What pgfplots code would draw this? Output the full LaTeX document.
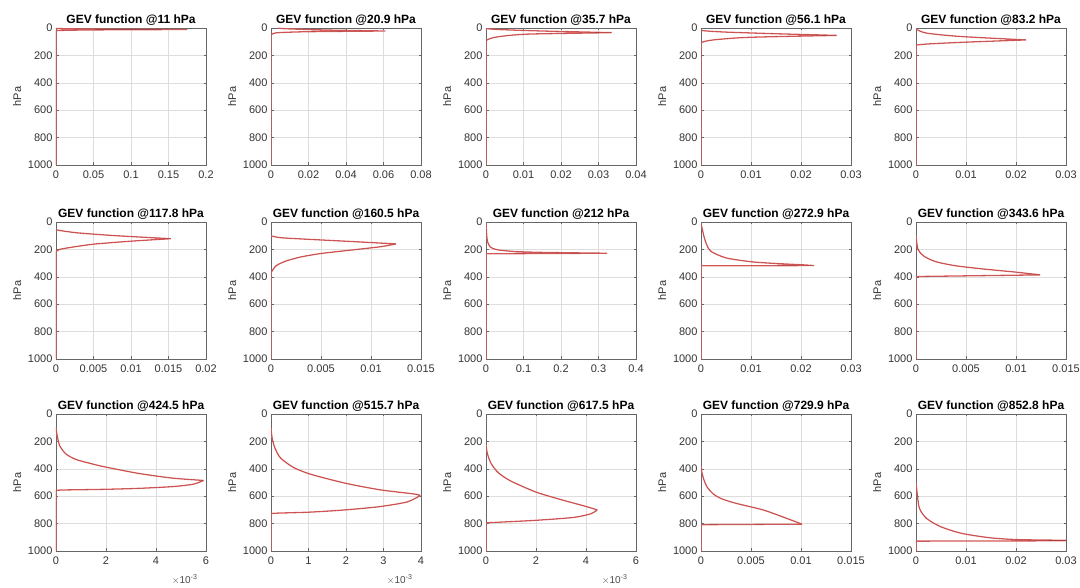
\documentclass[border=0pt]{standalone}
\usepackage{fontspec}
\setmainfont{Liberation Sans}
\usepackage{pgfplots}
\usepackage{pgfplotstable}
\pgfplotsset{compat=1.18}

\definecolor{gevred}{rgb}{0.88,0.40,0.40}
\definecolor{gevdark}{rgb}{0.50,0.12,0.12}
\definecolor{axgray}{rgb}{0.40,0.40,0.40}

% curves: x = GEV value, y = pressure (hPa); nan rows split tail / lower / upper branch
\pgfplotstableread{
x y
0 1000
0 22
nan nan
0 22
0.005 18
0.05 14
0.175 11
nan nan
0.175 11
0.05 8
0.01 5
0 3
}\cA
\pgfplotstableread{
x y
0 1000
0 50
nan nan
0 50
0.001 42
0.004 34
0.02 27
0.061 22
nan nan
0.061 22
0.03 15
0.007 5
0.004 0
}\cB
\pgfplotstableread{
x y
0 1000
0 95
nan nan
0 95
0.0004 85
0.002 70
0.0056 56
0.012 44
0.0335 34
nan nan
0.0335 34
0.015 22
0.004 12
0.001 7
0 5
}\cC
\pgfplotstableread{
x y
0 1000
0 108
nan nan
0 108
0.0007 98
0.003 85
0.0097 68
0.0271 54
nan nan
0.0271 54
0.015 42
0.005 30
0.0005 20
0 15
}\cD
\pgfplotstableread{
x y
0 1000
0 125
nan nan
0 125
0.0022 117
0.0089 105
0.022 87
nan nan
0.022 87
0.0089 62
0.0022 38
0.0002 12
0 5
}\cE
\pgfplotstableread{
x y
0 1000
0 215
nan nan
0 215
0.0005 200
0.002 185
0.005 162
0.01 140
0.0153 122
nan nan
0.0153 122
0.008 100
0.003 80
0.0005 62
0 55
}\cF
\pgfplotstableread{
x y
0 1000
0 370
nan nan
0 370
0.0005 320
0.0015 285
0.003 255
0.005 230
0.008 205
0.011 180
0.0125 160
nan nan
0.0125 160
0.0082 143
0.0016 118
0.0004 108
0 100
}\cG
\pgfplotstableread{
x y
0 1000
0 232
nan nan
0 232
0.323 228
nan nan
0.323 228
0.15 222
0.074 215
0.029 202
0.0116 183
0.0044 146
0.002 100
0 10
}\cH
\pgfplotstableread{
x y
0 1000
0 320
nan nan
0 320
0.0226 318
nan nan
0.0226 318
0.02 312
0.015 303
0.01 290
0.005 262
0.002 215
0.0012 170
0.0007 120
0.0003 60
0 10
}\cI
\pgfplotstableread{
x y
0 1000
0 398
nan nan
0 398
0.0124 386
nan nan
0.0124 386
0.01 366
0.007 345
0.004 320
0.002 290
0.0008 250
0.0002 200
0 100
}\cJ
% bottom row, first three in units of 1e-3
\pgfplotstableread{
x y
0 1000
0 560
nan nan
0 560
0.1 556
0.5 554
1.9 550
3.28 543
4.66 530
5.5 512
5.9 485
nan nan
5.9 485
4.66 468
3.28 433
1.9 384
1.4 362
0.8 332
0.4 292
0.15 232
0.05 160
0 100
}\cK
\pgfplotstableread{
x y
0 1000
0 728
nan nan
0 728
0.14 724
1.06 716
1.98 700
2.9 676
3.63 642
3.98 595
nan nan
3.98 595
3.82 584
2.9 553
1.98 505
1.06 440
0.6 390
0.25 320
0.1 245
0.03 175
0 100
}\cL
\pgfplotstableread{
x y
0 1000
0 795
nan nan
0 795
0.5 790
2 776
3.5 755
4.2 728
4.45 700
nan nan
4.45 700
4.0 675
3 625
2 570
1 490
0.5 430
0.2 360
0.05 285
0 220
}\cM
\pgfplotstableread{
x y
0 1000
0 808
nan nan
0 808
0.0101 804
nan nan
0.0101 804
0.0085 760
0.0062 700
0.0035 652
0.002 617
0.0012 582
0.0006 532
0.0003 482
0.0001 430
0 380
}\cN
\pgfplotstableread{
x y
0 1000
0 928
nan nan
0 928
0.035 925
nan nan
0.035 925
0.03 922
0.0203 917
0.0147 903
0.0091 871
0.0049 822
0.0021 762
0.0007 690
0.0003 600
0 500
}\cO

\pgfplotsset{
  gev/.style={
    scale only axis, width=150pt, height=137pt, anchor=south west,
    y dir=reverse, ymin=0, ymax=1000, xmin=0,
    scaled ticks=false, clip mode=individual, unbounded coords=jump,
    ytick={0,200,400,600,800,1000},
    yticklabels={0,200,400,600,800,1000},
    grid=major, grid style={black!13, line width=0.4pt},
    axis line style={axgray, line width=0.5pt},
    tick style={axgray, line width=0.5pt},
    tick align=inside, major tick length=2.5pt,
    ticklabel style={font=\fontsize{11}{12}\selectfont, text=black!80},
    xticklabel style={yshift=-2pt},
    ylabel={hPa}, ylabel style={font=\fontsize{11}{12}\selectfont, text=black!80},
    title style={font=\bfseries\fontsize{12}{14}\selectfont, yshift=-7pt},
  },
  red layer/.style={gevred, line width=1.3pt, smooth, tension=0.45},
  dark layer/.style={gevdark, line width=0.3pt, opacity=0.55, smooth, tension=0.45},
}
\newcommand{\gevcurve}[1]{%
  \addplot[red layer] table {#1};
  \addplot[dark layer] table {#1};
}
\newcommand{\milli}{\node[anchor=north east, font=\fontsize{10}{11}\selectfont, text=black!70]
  at (rel axis cs:1,0) [yshift=-20pt, xshift=-5pt] {$\times$10\textsuperscript{-3}};}

\begin{document}
\begin{tikzpicture}
\path[use as bounding box] (0pt,0pt) rectangle (1080pt,588pt);

% row 1
\begin{axis}[gev, at={(56pt,423pt)}, title={GEV function @11 hPa}, xmax=0.2,
  xtick={0,0.05,0.1,0.15,0.2}, xticklabels={0,0.05,0.1,0.15,0.2}]
\gevcurve{\cA}
\end{axis}
\begin{axis}[gev, at={(271pt,423pt)}, title={GEV function @20.9 hPa}, xmax=0.08,
  xtick={0,0.02,0.04,0.06,0.08}, xticklabels={0,0.02,0.04,0.06,0.08}]
\gevcurve{\cB}
\end{axis}
\begin{axis}[gev, at={(486pt,423pt)}, title={GEV function @35.7 hPa}, xmax=0.04,
  xtick={0,0.01,0.02,0.03,0.04}, xticklabels={0,0.01,0.02,0.03,0.04}]
\gevcurve{\cC}
\end{axis}
\begin{axis}[gev, at={(701pt,423pt)}, title={GEV function @56.1 hPa}, xmax=0.03,
  xtick={0,0.01,0.02,0.03}, xticklabels={0,0.01,0.02,0.03}]
\gevcurve{\cD}
\end{axis}
\begin{axis}[gev, at={(916pt,423pt)}, title={GEV function @83.2 hPa}, xmax=0.03,
  xtick={0,0.01,0.02,0.03}, xticklabels={0,0.01,0.02,0.03}]
\gevcurve{\cE}
\end{axis}

% row 2
\begin{axis}[gev, at={(56pt,229pt)}, title={GEV function @117.8 hPa}, xmax=0.02,
  xtick={0,0.005,0.01,0.015,0.02}, xticklabels={0,0.005,0.01,0.015,0.02}]
\gevcurve{\cF}
\end{axis}
\begin{axis}[gev, at={(271pt,229pt)}, title={GEV function @160.5 hPa}, xmax=0.015,
  xtick={0,0.005,0.01,0.015}, xticklabels={0,0.005,0.01,0.015}]
\gevcurve{\cG}
\end{axis}
\begin{axis}[gev, at={(486pt,229pt)}, title={GEV function @212 hPa}, xmax=0.4,
  xtick={0,0.1,0.2,0.3,0.4}, xticklabels={0,0.1,0.2,0.3,0.4}]
\gevcurve{\cH}
\end{axis}
\begin{axis}[gev, at={(701pt,229pt)}, title={GEV function @272.9 hPa}, xmax=0.03,
  xtick={0,0.01,0.02,0.03}, xticklabels={0,0.01,0.02,0.03}]
\gevcurve{\cI}
\end{axis}
\begin{axis}[gev, at={(916pt,229pt)}, title={GEV function @343.6 hPa}, xmax=0.015,
  xtick={0,0.005,0.01,0.015}, xticklabels={0,0.005,0.01,0.015}]
\gevcurve{\cJ}
\end{axis}

% row 3
\begin{axis}[gev, at={(56pt,37pt)}, title={GEV function @424.5 hPa}, xmax=6,
  xtick={0,2,4,6}, xticklabels={0,2,4,6}]
\gevcurve{\cK}
\milli
\end{axis}
\begin{axis}[gev, at={(271pt,37pt)}, title={GEV function @515.7 hPa}, xmax=4,
  xtick={0,1,2,3,4}, xticklabels={0,1,2,3,4}]
\gevcurve{\cL}
\milli
\end{axis}
\begin{axis}[gev, at={(486pt,37pt)}, title={GEV function @617.5 hPa}, xmax=6,
  xtick={0,2,4,6}, xticklabels={0,2,4,6}]
\gevcurve{\cM}
\milli
\end{axis}
\begin{axis}[gev, at={(701pt,37pt)}, title={GEV function @729.9 hPa}, xmax=0.015,
  xtick={0,0.005,0.01,0.015}, xticklabels={0,0.005,0.01,0.015}]
\gevcurve{\cN}
\end{axis}
\begin{axis}[gev, at={(916pt,37pt)}, title={GEV function @852.8 hPa}, xmax=0.03,
  xtick={0,0.01,0.02,0.03}, xticklabels={0,0.01,0.02,0.03}]
\gevcurve{\cO}
\end{axis}
\end{tikzpicture}
\end{document}
